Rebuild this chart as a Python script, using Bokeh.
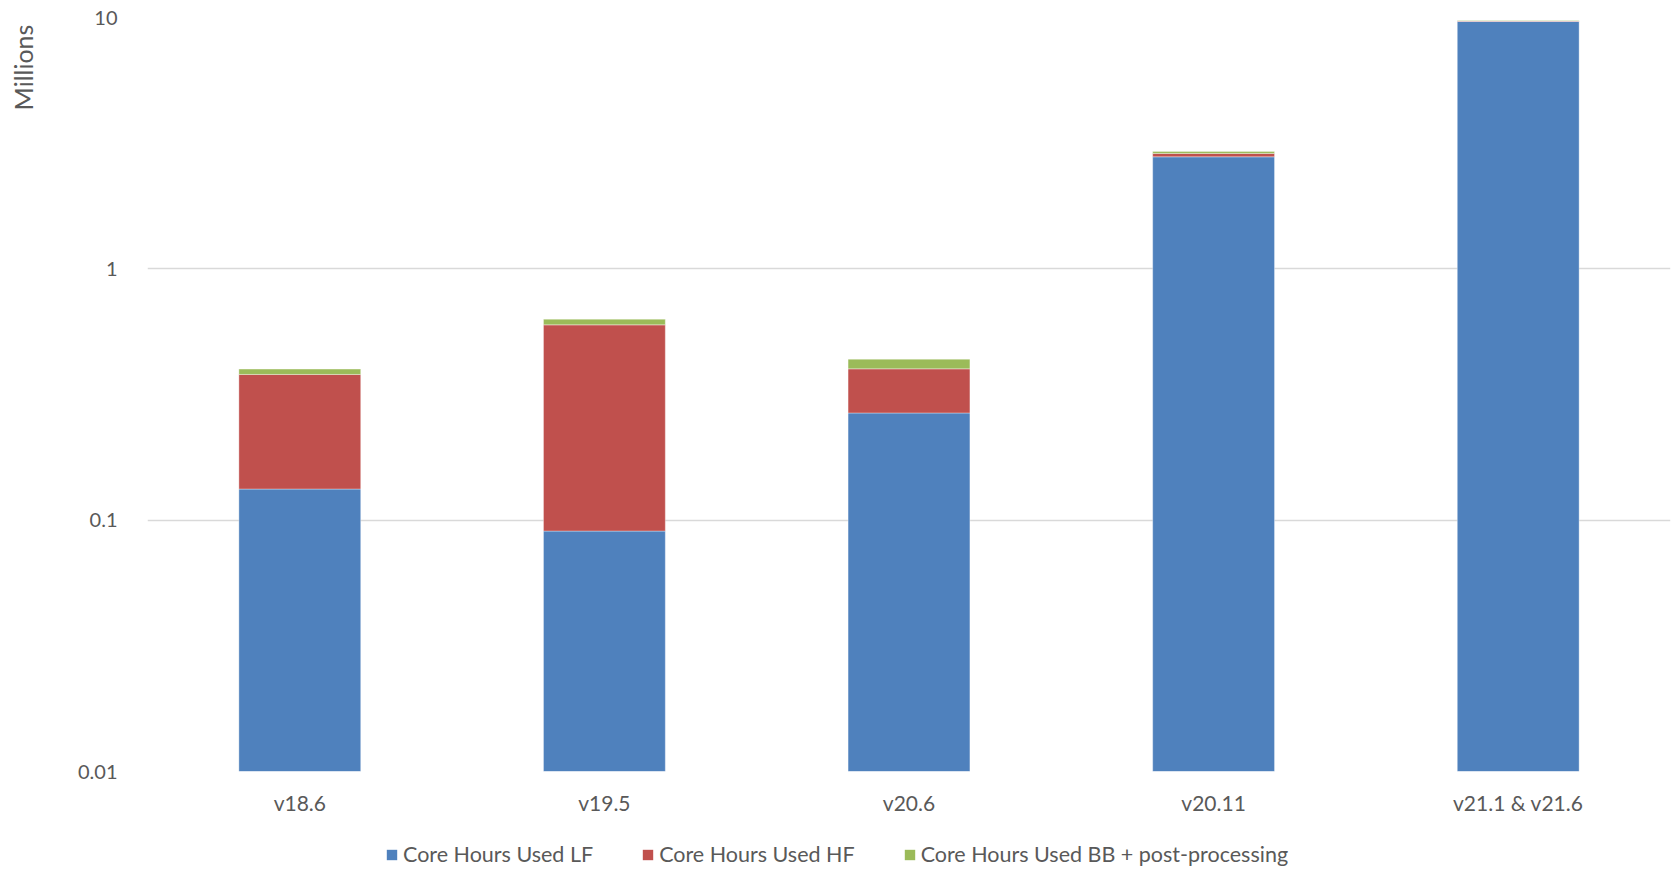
import math
from bokeh.plotting import figure
from bokeh.layouts import column, row
from bokeh.models import (Range1d, FactorRange, FixedTicker, Legend, LegendItem,
                          Label, ColumnDataSource)
from bokeh.embed import file_html
from bokeh.resources import INLINE

# ---- data ----
categories = ["v18.6", "v19.5", "v20.6", "v20.11", "v21.1 & v21.6"]
lf = [0.133, 0.0905, 0.267, 2.79, 9.64]
hf = [0.247, 0.508, 0.133, 0.087, 0.05]
bb = [0.019, 0.032, 0.037, 0.05, 0.04]
series_names = ["Core Hours Used LF", "Core Hours Used HF", "Core Hours Used BB + post-processing"]
y_ticks = [0.01, 0.1, 1, 10]
y_tick_labels = ["0.01", "0.1", "1", "10"]
y_label = "Millions"

colors = ["#4F81BD", "#C0504D", "#9BBB59"]
text_color = "#595959"
font = "Lato"

y_min, y_max = y_ticks[0], y_ticks[-1]

# stacked extents built from the series
src = ColumnDataSource(dict(
    cat=categories,
    b0=[y_min] * len(categories),
    t0=list(lf),
    t1=[a + b for a, b in zip(lf, hf)],
    t2=[a + b + c for a, b, c in zip(lf, hf, bb)],
))
stacks = [("b0", "t0"), ("t0", "t1"), ("t1", "t2")]

LABEL_W = 40
p = figure(width=1675 - LABEL_W, height=826,
           x_range=FactorRange(*categories),
           y_range=Range1d(y_min, y_max), y_axis_type="log",
           output_backend="svg", toolbar_location=None,
           min_border_left=147 - LABEL_W, min_border_right=5,
           min_border_top=17, min_border_bottom=55)

for (bot, top), col in zip(stacks, colors):
    p.vbar(x="cat", bottom=bot, top=top, width=0.4, source=src,
           fill_color=col, line_color="white", line_alpha=0.35, line_width=1)

# axes
p.yaxis.ticker = FixedTicker(ticks=y_ticks, minor_ticks=[])
p.yaxis.major_label_overrides = {t: l for t, l in zip(y_ticks, y_tick_labels)}
for ax in (p.xaxis[0], p.yaxis[0]):
    ax.axis_line_color = None
    ax.major_tick_line_color = None
    ax.minor_tick_line_color = None
    ax.major_label_text_font = font
    ax.major_label_text_color = text_color
p.yaxis.major_label_text_font_size = "20px"
p.xaxis.major_label_text_font_size = "21px"
p.yaxis.major_label_standoff = 24
p.xaxis.major_label_standoff = 12

p.xgrid.grid_line_color = None
p.ygrid.grid_line_color = "#D9D9D9"
p.ygrid.grid_line_width = 1.5
p.outline_line_color = None

# ---- narrow strip on the left holding the "Millions" label ----
yl = figure(width=LABEL_W, height=870, x_range=Range1d(0, 1), y_range=Range1d(0, 1),
            output_backend="svg", toolbar_location=None,
            min_border_left=0, min_border_right=0, min_border_top=0, min_border_bottom=0)
yl.axis.visible = False
yl.grid.visible = False
yl.outline_line_color = None
yl.add_layout(Label(x=22, y=870 - 67, x_units="screen", y_units="screen",
                    text=y_label, angle=math.pi / 2, text_align="center",
                    text_baseline="middle", text_font=font,
                    text_font_size="25px", text_color=text_color))

# ---- legend strip below the chart ----
lg = figure(width=1675 - LABEL_W, height=44,
            x_range=FactorRange(*categories), y_range=Range1d(100, 101),
            output_backend="svg", toolbar_location=None,
            min_border_left=0, min_border_right=0, min_border_top=0, min_border_bottom=0)
lg.axis.visible = False
lg.grid.visible = False
lg.outline_line_color = None
keys = []
for (bot, top), col in zip(stacks, colors):
    # same bars, lying far outside this strip's visible range: only their legend keys show
    keys.append(lg.vbar(x="cat", bottom=bot, top=top, width=0.4, source=src,
                        fill_color=col, line_color=None))

legend = Legend(items=[LegendItem(label=n, renderers=[r]) for n, r in zip(series_names, keys)],
                orientation="horizontal", location=(238, 3),
                border_line_color=None, background_fill_alpha=0,
                label_text_font=font, label_text_font_size="21.5px",
                label_text_color=text_color, glyph_width=13, glyph_height=13,
                label_standoff=5, spacing=48, padding=0, margin=0)
lg.add_layout(legend, "center")

page = row(yl, column(p, lg, spacing=0), spacing=0)
open("out.html", "w").write(file_html(page, INLINE))
